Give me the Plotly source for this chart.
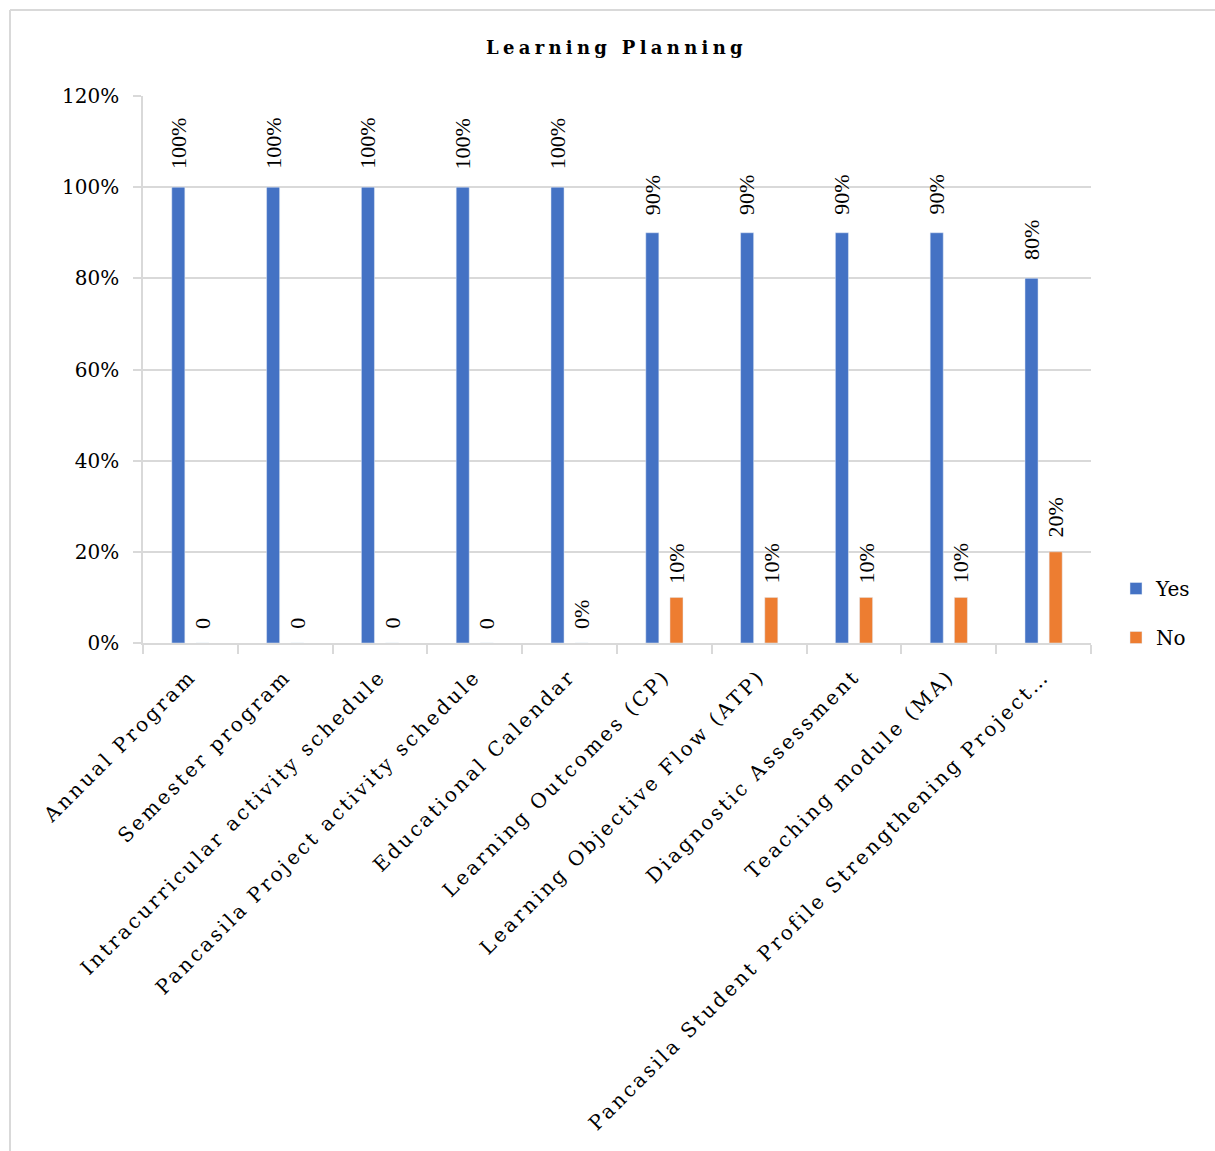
import plotly.graph_objects as go

categories = [
    "Annual Program",
    "Semester program",
    "Intracurricular activity schedule",
    "Pancasila Project activity schedule",
    "Educational Calendar",
    "Learning Outcomes (CP)",
    "Learning Objective Flow (ATP)",
    "Diagnostic Assessment",
    "Teaching module (MA)",
    "Pancasila Student Profile Strengthening Project…",
]
yes_values = [1.0, 1.0, 1.0, 1.0, 1.0, 0.9, 0.9, 0.9, 0.9, 0.8]
no_values = [0.0, 0.0, 0.0, 0.0, 0.0, 0.1, 0.1, 0.1, 0.1, 0.2]
yes_labels = ["100%", "100%", "100%", "100%", "100%", "90%", "90%", "90%", "90%", "80%"]
no_labels = ["0", "0", "0", "0", "0%", "10%", "10%", "10%", "10%", "20%"]
y_ticks = [0, 0.2, 0.4, 0.6, 0.8, 1.0, 1.2]
y_tick_labels = ["0%", "20%", "40%", "60%", "80%", "100%", "120%"]

SERIF = "DejaVu Serif"
LABEL_FONT = dict(family="Liberation Serif", size=22, color="#000000")

fig = go.Figure()
fig.add_trace(go.Bar(
    x=categories, y=yes_values, name="Yes", marker_color="#4472C4",
    legendgroup="yes", hoverinfo="skip",
))
fig.add_trace(go.Bar(
    x=categories, y=no_values, name="No", marker_color="#ED7D31",
    legendgroup="no", hoverinfo="skip",
))

# data labels, placed through the axes' scales
annotations = []
for cat, v, lab in zip(categories, yes_values, yes_labels):
    annotations.append(dict(x=cat, y=v, xref="x", yref="y", text=lab,
                            showarrow=False, textangle=-90, xanchor="center",
                            yanchor="bottom", xshift=-12, yshift=16,
                            font=LABEL_FONT))
for cat, v, lab in zip(categories, no_values, no_labels):
    annotations.append(dict(x=cat, y=v, xref="x", yref="y", text=lab,
                            showarrow=False, textangle=-90, xanchor="center",
                            yanchor="bottom", xshift=12, yshift=12,
                            font=LABEL_FONT))

W, H = 1215, 1151
L, R, T, B = 143, 124, 96, 508
pw, ph = W - L - R, H - T - B

def px(x):
    return (x - L) / pw

def py(y):
    return (H - B - y) / ph

fig.update_layout(
    width=W, height=H,
    margin=dict(l=L, r=R, t=T, b=B, autoexpand=False),
    paper_bgcolor="white", plot_bgcolor="white",
    barmode="group", bargap=0.49, bargroupgap=0.46,
    title=dict(text="<b>Learning Planning</b>", x=px(624), xanchor="center",
               y=1 - 48 / H, yanchor="middle",
               font=dict(family=SERIF, size=18, color="#000000")),
    legend=dict(x=px(1116), xanchor="left", y=py(569), yanchor="top",
                font=dict(family=SERIF, size=20, color="#000000"),
                tracegroupgap=20, bgcolor="rgba(0,0,0,0)"),
    showlegend=True,
    annotations=annotations,
    xaxis=dict(
        tickangle=-45, tickfont=dict(family=SERIF, size=20, color="#000000"),
        ticklabelstandoff=12,
        showline=True, linecolor="#d9d9d9", linewidth=1.5,
        ticks="outside", tickson="boundaries", ticklen=9, tickcolor="#d9d9d9",
        tickwidth=1.5, showgrid=False, automargin=False,
    ),
    yaxis=dict(
        range=[0, 1.2], tickvals=y_ticks, ticktext=y_tick_labels,
        tickfont=dict(family=SERIF, size=20, color="#000000"),
        ticklabelstandoff=10,
        showgrid=True, gridcolor="#d9d9d9", gridwidth=1.5,
        showline=True, linecolor="#d9d9d9", linewidth=1.5,
        ticks="outside", ticklen=8, tickcolor="#d9d9d9", tickwidth=1.5,
        zeroline=False, automargin=False,
    ),
    shapes=[
        dict(type="line", xref="paper", yref="paper", x0=px(10), x1=px(1220),
             y0=py(10), y1=py(10), line=dict(color="#d9d9d9", width=2)),
        dict(type="line", xref="paper", yref="paper", x0=px(10), x1=px(10),
             y0=py(10), y1=py(1160), line=dict(color="#d9d9d9", width=2)),
    ],
)

post = """
document.body.style.margin = '0';
document.body.style.padding = '0';
var gd = document.getElementById('{plot_id}');
function applyLS(){
  gd.querySelectorAll('.xtick text').forEach(function(t){t.setAttribute('letter-spacing','2.8px');});
  gd.querySelectorAll('.gtitle').forEach(function(t){t.setAttribute('letter-spacing','4.3px');});
}
applyLS();
setTimeout(applyLS, 30);
setTimeout(applyLS, 300);
"""

fig.write_html("out.html", post_script=post, config={"displayModeBar": False})
